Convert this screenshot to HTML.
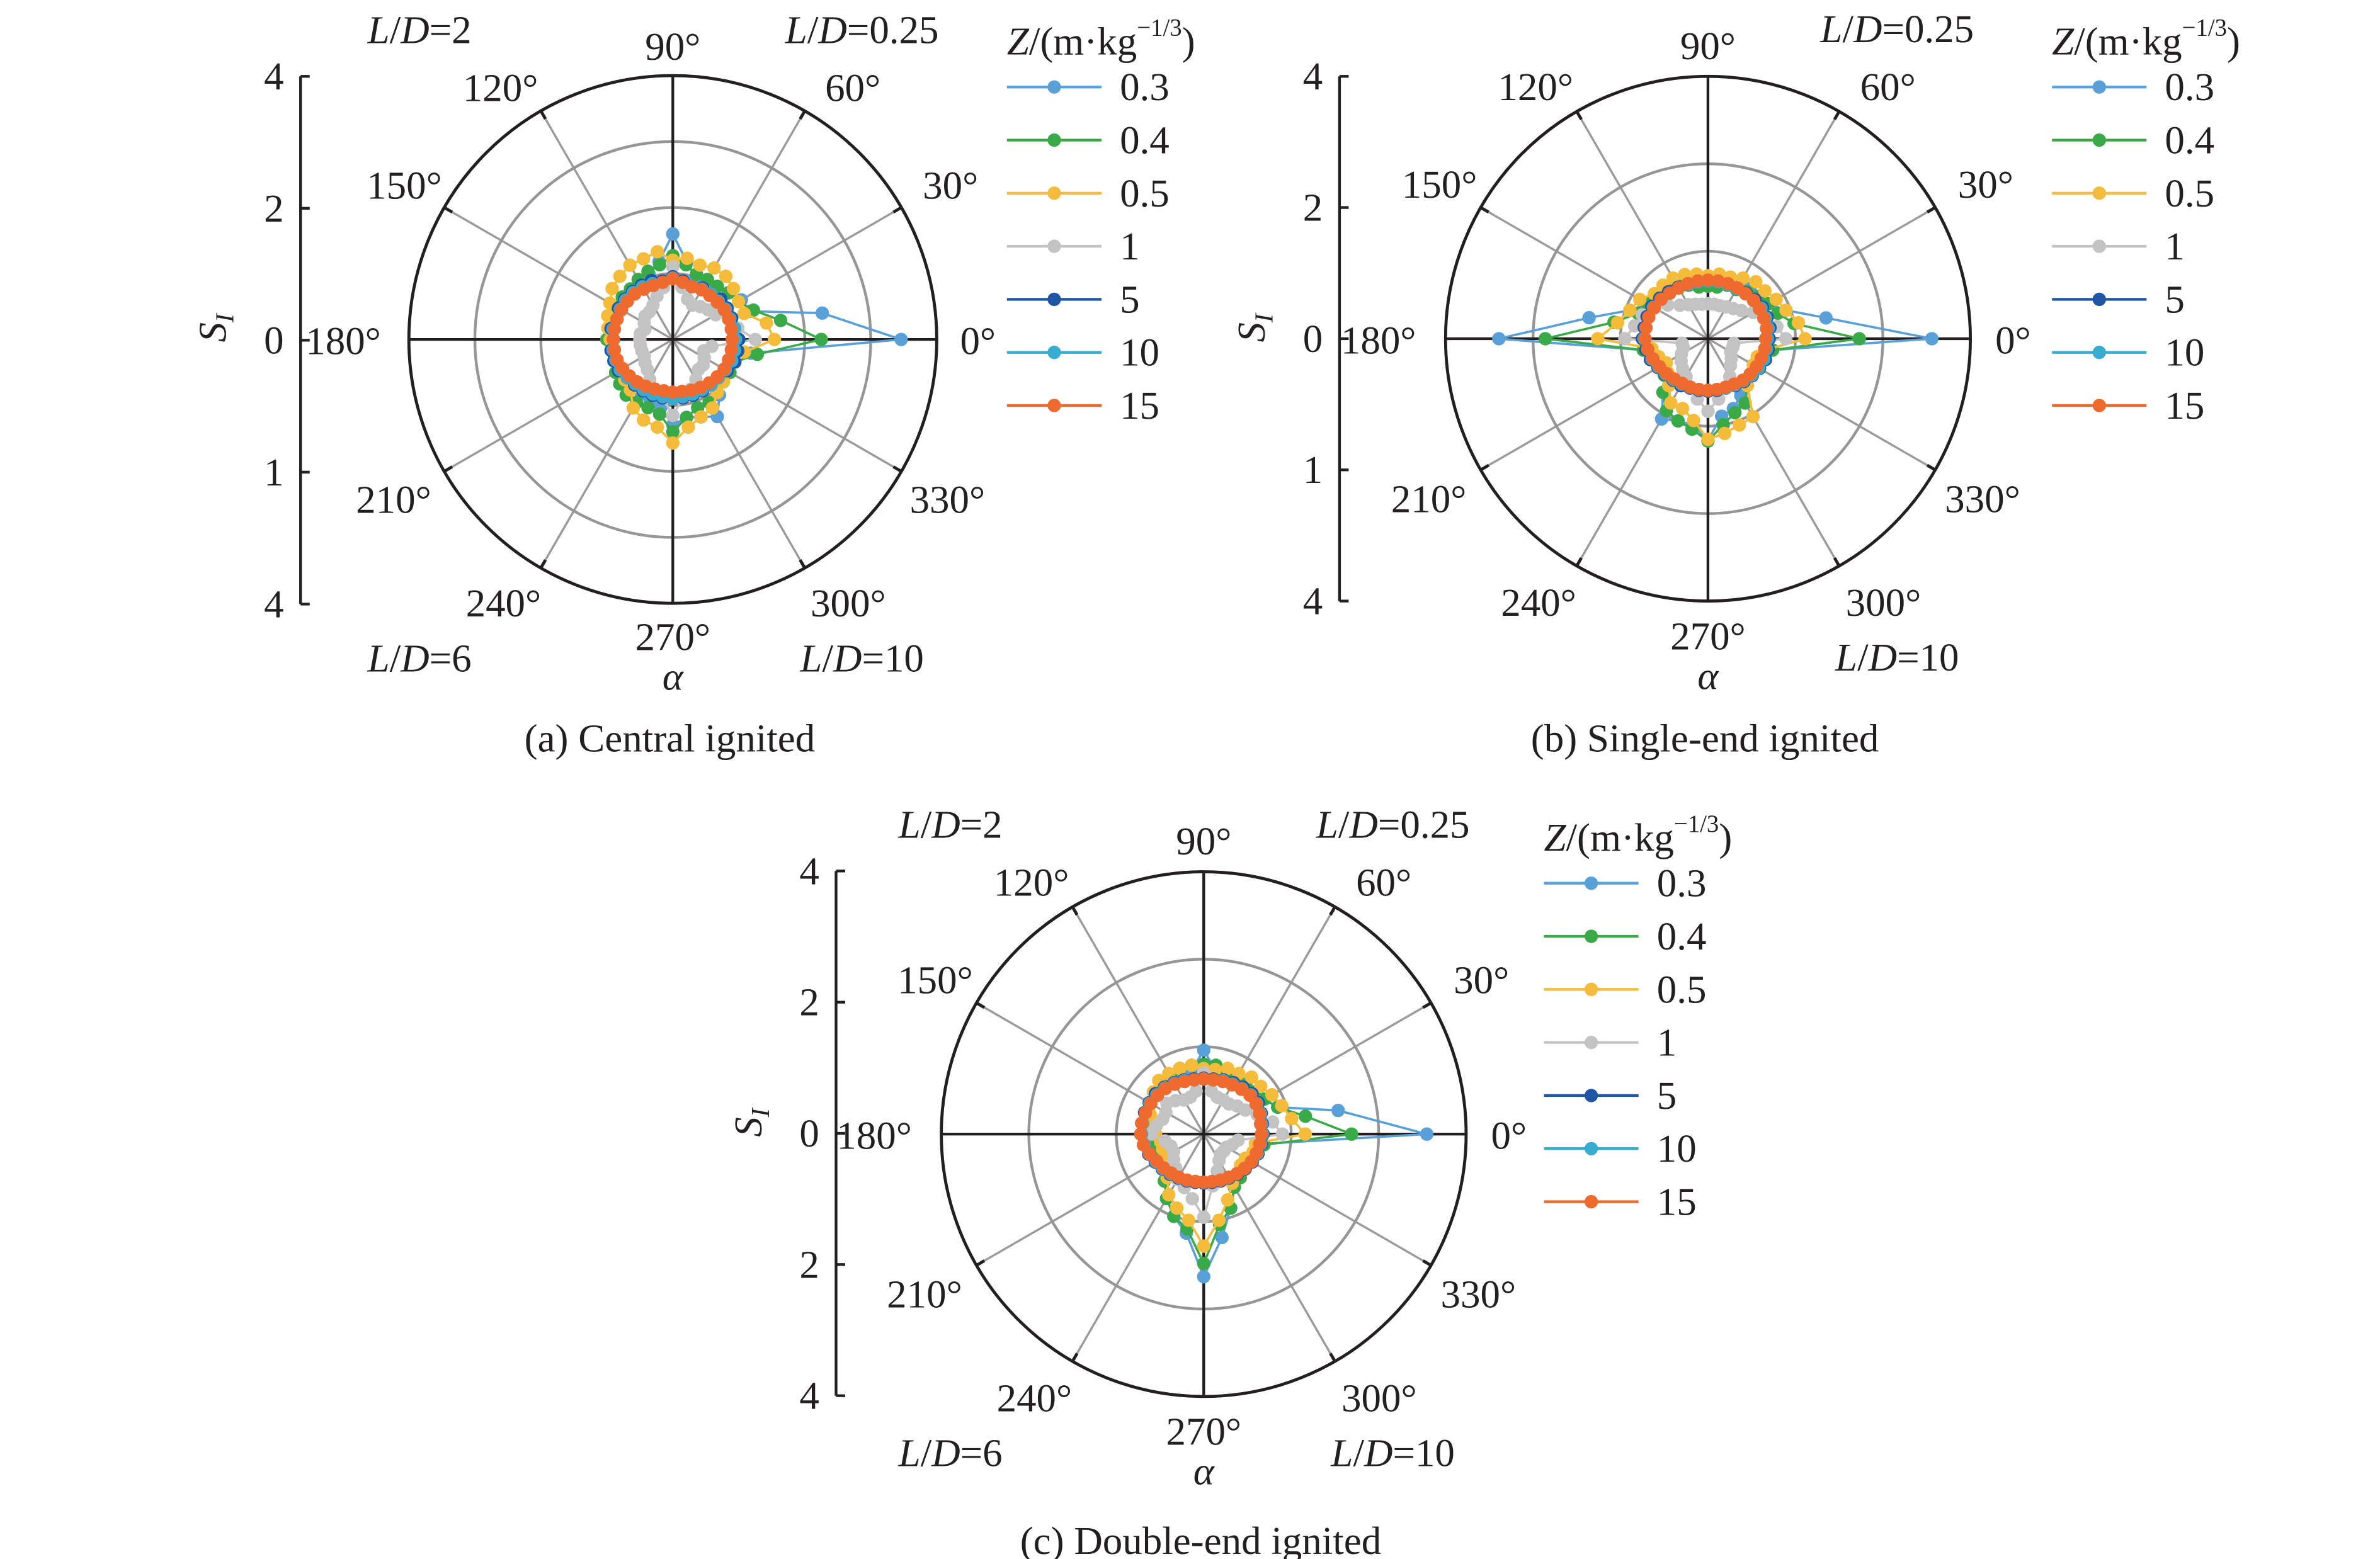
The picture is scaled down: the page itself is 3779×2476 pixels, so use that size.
<!DOCTYPE html>
<html><head><meta charset="utf-8"><style>
html,body{margin:0;padding:0;background:#fff;}
svg{display:block;font-family:"Liberation Serif","DejaVu Serif",serif;}
svg text{font-family:"Liberation Serif","DejaVu Serif",serif;fill:#231f20;}
</style></head><body>
<svg id="chart" width="3779" height="2476" viewBox="0 0 1560 1022" font-family="Liberation Serif, serif" xmlns="http://www.w3.org/2000/svg"></svg>
<script>
const angles = [0,10,20,30,40,50,60,70,80,90,100,110,120,130,140,150,160,170,180,190,200,210,220,230,240,250,260,270,280,290,300,310,320,330,340,350];
const seriesNames = ["0.3","0.4","0.5","1","5","10","15"];
const seriesColors = ["#5aa0d8","#3aaa48","#f5bb3a","#c3c3c3","#1f55a5","#38acd0","#ef6a2e"];
const angleTicks = [0,30,60,90,120,150,180,210,240,270,300,330];
const yTickLabelsAB = ["4","2","0","1","4"];
const yTickLabelsC = ["4","2","0","2","4"];

// Panel (a) Central ignited
const a03 = [3.46,2.3,1.25,1.2,1.1,1.05,1.0,1.0,1.2,1.6,1.2,1.05,1.0,0.95,1.0,0.95,0.9,0.9,0.95,0.9,0.9,0.95,0.95,0.95,0.95,1.0,1.05,1.3,1.2,1.25,1.35,1.1,0.95,0.9,0.9,1.2];
const a04 = [2.25,1.66,1.3,1.15,1.1,1.05,1.05,1.05,1.15,1.27,1.15,1.1,1.05,1.0,1.0,1.0,0.95,0.95,1.0,0.95,0.95,1.0,1.05,1.1,1.1,1.1,1.15,1.4,1.2,1.1,1.1,1.05,1.0,1.0,1.0,1.3];
const a05 = [1.54,1.44,1.15,1.15,1.2,1.25,1.25,1.2,1.25,1.2,1.35,1.3,1.3,1.25,1.2,1.1,1.05,1.0,0.95,0.95,0.9,0.9,0.95,1.0,1.2,1.3,1.35,1.57,1.35,1.25,1.2,1.05,1.0,0.95,0.95,1.1];
const a1 = [1.25,1.0,0.95,0.75,0.7,0.65,0.6,0.65,0.8,1.1,0.8,0.7,0.6,0.55,0.55,0.5,0.45,0.5,0.5,0.5,0.5,0.5,0.55,0.6,0.7,0.8,0.9,1.15,0.9,0.8,0.7,0.6,0.6,0.55,0.5,0.6];
const a5 = [1.0,0.95,0.95,0.95,0.95,0.9,0.9,0.85,0.9,0.95,0.9,0.95,0.95,0.95,0.95,0.95,0.9,0.95,0.9,0.95,0.95,0.95,0.9,0.9,0.9,0.9,0.9,0.9,0.9,0.9,0.9,0.9,0.9,0.95,1.0,1.0];
const a10 = [0.95,0.95,0.92,0.92,0.9,0.9,0.88,0.85,0.88,0.93,0.88,0.9,0.92,0.93,0.93,0.92,0.9,0.92,0.9,0.92,0.92,0.92,0.9,0.88,0.88,0.88,0.88,0.9,0.88,0.88,0.88,0.9,0.9,0.92,0.95,0.95];
const a15 = [0.9,0.9,0.9,0.9,0.88,0.87,0.87,0.85,0.88,0.92,0.88,0.87,0.88,0.9,0.9,0.9,0.9,0.9,0.9,0.9,0.9,0.88,0.86,0.84,0.82,0.8,0.79,0.8,0.8,0.82,0.84,0.86,0.88,0.9,0.9,0.9];

// Panel (b) Single-end ignited
const b03 = [2.56,1.37,0.95,0.8,0.75,0.75,0.7,0.7,0.65,0.6,0.65,0.7,0.7,0.75,0.75,0.8,0.95,1.38,2.39,0.75,0.65,0.6,0.65,0.8,1.06,1.0,1.0,1.16,0.9,0.85,0.75,0.65,0.65,0.6,0.65,0.75];
const b04 = [1.73,1.0,0.85,0.8,0.75,0.7,0.65,0.65,0.6,0.6,0.6,0.65,0.7,0.75,0.75,0.8,0.85,1.09,1.86,0.75,0.65,0.6,0.65,0.8,0.95,1.0,1.05,1.17,1.0,0.9,0.85,0.7,0.65,0.6,0.65,0.75];
const b05 = [1.11,1.05,0.95,0.9,0.85,0.85,0.8,0.75,0.75,0.72,0.75,0.78,0.8,0.8,0.8,0.9,0.95,1.05,1.26,0.65,0.6,0.55,0.6,0.7,0.85,0.85,0.95,1.15,1.1,1.05,1.03,0.7,0.65,0.6,0.6,0.7];
const b1 = [0.89,0.8,0.7,0.6,0.5,0.45,0.42,0.4,0.4,0.4,0.4,0.42,0.45,0.5,0.6,0.7,0.8,0.85,0.95,0.3,0.3,0.35,0.4,0.45,0.5,0.6,0.7,0.83,0.7,0.6,0.5,0.4,0.35,0.3,0.3,0.3];
const b5 = [0.7,0.72,0.72,0.72,0.7,0.68,0.66,0.66,0.66,0.66,0.66,0.66,0.68,0.7,0.72,0.74,0.74,0.74,0.75,0.72,0.7,0.66,0.64,0.62,0.62,0.6,0.6,0.6,0.6,0.6,0.62,0.64,0.66,0.68,0.7,0.7];
const b10 = [0.68,0.7,0.7,0.7,0.68,0.67,0.66,0.66,0.66,0.66,0.66,0.66,0.67,0.68,0.7,0.72,0.72,0.72,0.73,0.7,0.68,0.65,0.63,0.61,0.6,0.59,0.59,0.59,0.59,0.6,0.61,0.63,0.65,0.67,0.68,0.68];
const b15 = [0.66,0.68,0.68,0.68,0.68,0.67,0.67,0.67,0.67,0.67,0.67,0.67,0.67,0.68,0.7,0.71,0.72,0.72,0.72,0.7,0.67,0.64,0.62,0.6,0.59,0.59,0.59,0.59,0.59,0.59,0.6,0.62,0.63,0.64,0.65,0.66];

// Panel (c) Double-end ignited
const c03 = [2.55,1.56,0.9,0.8,0.75,0.7,0.7,0.7,0.75,0.96,0.75,0.7,0.7,0.7,0.7,0.7,0.7,0.7,0.7,0.6,0.55,0.55,0.6,0.7,0.85,1.0,1.15,1.63,1.2,0.9,0.7,0.65,0.6,0.6,0.6,0.65];
const c04 = [1.69,1.18,0.9,0.8,0.75,0.75,0.75,0.75,0.8,0.8,0.8,0.8,0.75,0.75,0.75,0.7,0.7,0.7,0.7,0.6,0.55,0.55,0.6,0.7,0.85,1.0,1.1,1.48,1.05,0.9,0.7,0.65,0.6,0.6,0.65,0.7];
const c05 = [1.16,1.02,0.95,0.9,0.85,0.85,0.8,0.8,0.75,0.75,0.8,0.8,0.8,0.8,0.75,0.7,0.65,0.6,0.55,0.5,0.5,0.5,0.55,0.65,0.8,0.9,1.0,1.28,1.0,0.8,0.65,0.6,0.55,0.55,0.6,0.6];
const c1 = [0.9,0.8,0.65,0.55,0.5,0.45,0.45,0.45,0.5,0.7,0.5,0.45,0.45,0.5,0.55,0.5,0.5,0.55,0.6,0.45,0.4,0.4,0.45,0.5,0.6,0.65,0.75,0.95,0.6,0.45,0.35,0.3,0.3,0.3,0.35,0.4];
const c5 = [0.68,0.68,0.7,0.72,0.72,0.7,0.68,0.66,0.64,0.64,0.64,0.66,0.68,0.7,0.72,0.72,0.72,0.72,0.72,0.7,0.67,0.64,0.62,0.6,0.58,0.57,0.56,0.56,0.56,0.57,0.58,0.6,0.62,0.64,0.66,0.67];
const c10 = [0.67,0.67,0.69,0.7,0.7,0.68,0.66,0.65,0.63,0.63,0.63,0.65,0.67,0.69,0.7,0.71,0.71,0.71,0.71,0.69,0.66,0.63,0.61,0.59,0.57,0.56,0.55,0.55,0.55,0.56,0.57,0.59,0.61,0.63,0.65,0.66];
const c15 = [0.66,0.66,0.68,0.69,0.69,0.67,0.65,0.64,0.63,0.63,0.63,0.64,0.66,0.68,0.69,0.7,0.71,0.72,0.72,0.7,0.66,0.62,0.6,0.58,0.57,0.56,0.55,0.55,0.55,0.56,0.57,0.59,0.61,0.63,0.64,0.65];

const panelA = [a03,a04,a05,a1,a5,a10,a15];
const panelB = [b03,b04,b05,b1,b5,b10,b15];
const panelC = [c03,c04,c05,c1,c5,c10,c15];

const NS = "http://www.w3.org/2000/svg";
const svg = document.getElementById("chart");
const FONT = "Liberation Serif, DejaVu Serif, serif";
function mk(tag, attrs, parent){
  const e = document.createElementNS(NS, tag);
  for (const k in attrs) e.setAttribute(k, attrs[k]);
  if (tag === "text") e.setAttribute("font-family", FONT);
  (parent||svg).appendChild(e);
  return e;
}
const FS = 26;

const panels = [
  {key:"a", series:panelA, cx:441, cy:222.5, R:173, rings:4, axisX:197, axisTop:50, ticks:yTickLabelsAB, legX:660, legY:27, caption:"(a) Central ignited", capY:484, ld:["2","0.25","6","10"]},
  {key:"b", series:panelB, cx:1119.5, cy:222, R:172, rings:3, axisX:878, axisTop:50, ticks:yTickLabelsAB, legX:1345, legY:27, caption:"(b) Single-end ignited", capY:484, ld:[null,"0.25",null,"10"]},
  {key:"c", series:panelC, cx:789, cy:743.5, R:172, rings:3, axisX:548, axisTop:571, ticks:yTickLabelsC, legX:1012, legY:549, caption:"(c) Double-end ignited", capY:1010, ld:["2","0.25","6","10"]}
];

panels.forEach(p => {
  const g = mk("g", {});
  
  
  const unit = p.R / p.rings;
  const rScale = v => v * unit;
  const px = (ang, v) => p.cx + rScale(v) * Math.cos(ang * Math.PI / 180);
  const py = (ang, v) => p.cy - rScale(v) * Math.sin(ang * Math.PI / 180);

  angleTicks.forEach(t => {
    const major = t % 90 === 0;
    if (major) return;
    const l = mk("line", {x1:p.cx, y1:p.cy, x2:px(t, p.rings), y2:py(t, p.rings), stroke:"#9a9a9a", "stroke-width":1.4}, g);
    
    
    const tk = mk("line", {x1:px(t, p.rings), y1:py(t, p.rings), x2:px(t, p.rings*0.965), y2:py(t, p.rings*0.965), stroke:"#231f20", "stroke-width":2}, g);
    
    
  });
  for (let i = 1; i < p.rings; i++) {
    const c = mk("circle", {cx:p.cx, cy:p.cy, r:unit*i, fill:"none", stroke:"#969696", "stroke-width":1.8}, g);
    
    
  }
  [0,90,180,270].forEach(t => {
    const l = mk("line", {x1:p.cx, y1:p.cy, x2:px(t, p.rings), y2:py(t, p.rings), stroke:"#231f20", "stroke-width":1.8}, g);
    
    
  });
  const outer = mk("circle", {cx:p.cx, cy:p.cy, r:p.R, fill:"none", stroke:"#231f20", "stroke-width":2}, g);
  
  

  const labOff = {0:[200,1],30:[182,-101],60:[118,-165],90:[0,-192],120:[-113,-165],150:[-176,-101],180:[-216,1],210:[-183,105],240:[-111,173],270:[0,195],300:[115,173],330:[180,105]};
  angleTicks.forEach(t => {
    const o = labOff[t];
    const tx = mk("text", {x:p.cx+o[0], y:p.cy+o[1], "font-size":FS, "text-anchor":"middle", "dominant-baseline":"central"}, g);
    tx.textContent = t + "°";
    
    
  });
  const ldPos = [[-166,-203],[124,-203],[-166,209],[124,209]];
  p.ld.forEach((v, i) => {
    if (v === null) return;
    const tx = mk("text", {x:p.cx+ldPos[i][0], y:p.cy+ldPos[i][1], "font-size":FS, "text-anchor":"middle", "dominant-baseline":"central"}, g);
    tx.innerHTML = '<tspan font-style="italic">L</tspan>/<tspan font-style="italic">D</tspan>=' + v;
    
    
  });
  const al = mk("text", {x:p.cx, y:p.cy+221, "font-size":FS, "font-style":"italic", "text-anchor":"middle", "dominant-baseline":"central"}, g);
  al.textContent = "α";
  
  

  const yl = mk("line", {x1:p.axisX, y1:p.axisTop, x2:p.axisX, y2:p.axisTop+2*p.R, stroke:"#231f20", "stroke-width":1.8}, g);
  
  
  p.ticks.forEach((lab, i) => {
    const y = p.axisTop + i * p.R / 2;
    const tk = mk("line", {x1:p.axisX, y1:y, x2:p.axisX+6, y2:y, stroke:"#231f20", "stroke-width":1.8}, g);
    
    
    const tx = mk("text", {x:p.axisX-11, y:y, "font-size":FS, "text-anchor":"end", "dominant-baseline":"central"}, g);
    tx.textContent = lab;
    
    
  });
  const sl = mk("text", {x:0, y:0, "font-size":FS, "font-style":"italic", "text-anchor":"middle", transform:"translate(" + (p.axisX-49) + "," + (p.axisTop+165) + ") rotate(-90)"}, g);
  sl.innerHTML = 'S<tspan font-size="17" dy="5">I</tspan>';
  
  

  p.series.forEach((vals, si) => {
    const sg = mk("g", {}, g);
    
    
    const pts = angles.map((a, i) => px(a, vals[i]).toFixed(2) + "," + py(a, vals[i]).toFixed(2));
    const pl = mk("polygon", {points:pts.join(" "), fill:"none", stroke:seriesColors[si], "stroke-width":1.5}, sg);
    
    
    angles.forEach((a, i) => {
      const c = mk("circle", {cx:px(a, vals[i]), cy:py(a, vals[i]), r:4.4, fill:seriesColors[si]}, sg);
      
      
    });
  });

  const lt = mk("text", {x:p.legX, y:p.legY, "font-size":FS, "dominant-baseline":"central"}, g);
  lt.innerHTML = '<tspan font-style="italic">Z</tspan>/(m·kg<tspan font-size="16" dy="-9">−1/3</tspan><tspan dy="9">)</tspan>';
  
  
  seriesNames.forEach((nm, si) => {
    const y = p.legY + 30 + si * 34.8;
    const eg = mk("g", {}, g);
    
    
    mk("line", {x1:p.legX, y1:y, x2:p.legX+62, y2:y, stroke:seriesColors[si], "stroke-width":1.8}, eg);
    mk("circle", {cx:p.legX+31, cy:y, r:4.4, fill:seriesColors[si]}, eg);
    const t = mk("text", {x:p.legX+74, y:y, "font-size":FS, "dominant-baseline":"central"}, eg);
    t.textContent = nm;
  });

  const cap = mk("text", {x:p.cx-2, y:p.capY, "font-size":FS, "text-anchor":"middle", "dominant-baseline":"central"}, g);
  cap.textContent = p.caption;
  
  
});
</script>
</body></html>
